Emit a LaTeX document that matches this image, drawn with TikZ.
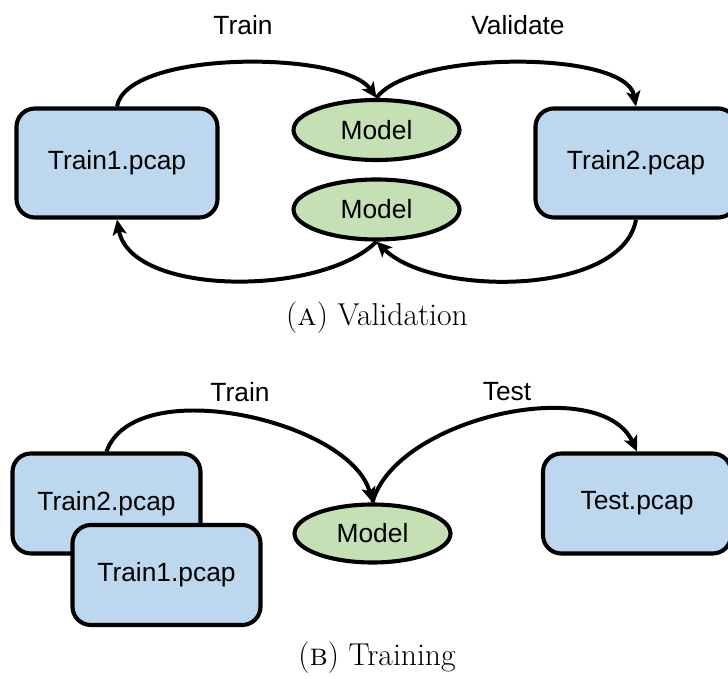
\documentclass[tikz,border=0pt]{standalone}
\usepackage{fontspec}
\setsansfont{Liberation Sans}
\usepackage{tikz}
\usetikzlibrary{arrows.meta,positioning,shapes.geometric}
\definecolor{pcapblue}{HTML}{BDD7EE}
\definecolor{modelgreen}{HTML}{C5E0B4}

\begin{document}
\begin{tikzpicture}[x=0.03cm, y=0.03cm,
  pcap/.style={draw, rounded corners=0.55cm, fill=pcapblue, line width=3.5pt, font=\sffamily\fontsize{22.5}{26}\selectfont},
  model/.style={draw, ellipse, fill=modelgreen, line width=3.5pt, inner sep=0pt, font=\sffamily\fontsize{22.5}{26}\selectfont},
  flow/.style={-{Stealth[length=13pt,width=12pt,inset=3pt]}, line width=3.4pt},
  lbl/.style={font=\sffamily\fontsize{22.5}{26}\selectfont},
  subcap/.style={font=\fontsize{27}{30}\selectfont}]
  \useasboundingbox (0,0) rectangle (728,679);

  % (a) validation
  \node[pcap, minimum width=6.03cm, minimum height=3.27cm] (t1) at (117,516) {Train1.pcap};
  \node[pcap, minimum width=6.03cm, minimum height=3.27cm] (t2) at (636,516) {Train2.pcap};
  \node[model, minimum width=4.98cm, minimum height=1.8cm] (m1) at (376.5,549) {Model};
  \node[model, minimum width=4.98cm, minimum height=1.8cm] (m2) at (376.5,469.5) {Model};

  \draw[flow] (t1.north) to[out=80, in=125, looseness=0.57] (m1.north);
  \draw[flow] (m1.north) to[out=55, in=100, looseness=0.57] (t2.north);
  \draw[flow] (t2.south) to[out=-100, in=-45, looseness=0.77] (m2.south);
  \draw[flow] (m2.south) to[out=-135, in=-80, looseness=0.77] (t1.south);

  \node[lbl] (trainA) at (243,654) {Train};
  \node[lbl] (valA) at (518,654) {Validate};
  \node[subcap] (capA) at (377,361) {({\scshape a}) Validation};

  % (b) training
  \node[pcap, minimum width=5.64cm, minimum height=3.0cm] (b2) at (106.5,175.5) {Train2.pcap};
  \node[pcap, minimum width=5.64cm, minimum height=3.0cm] (b1) at (166.5,104) {Train1.pcap};
  \node[model, minimum width=4.68cm, minimum height=1.74cm] (m3) at (372.5,145.5) {Model};
  \node[pcap, minimum width=5.64cm, minimum height=3.0cm] (test) at (637,175.5) {Test.pcap};

  \draw[flow] (b2.north) to[out=70, in=105, looseness=0.8] (m3.north);
  \draw[flow] (m3.north) to[out=75, in=115, looseness=0.83] (test.north);

  \node[lbl] (trainB) at (240,287) {Train};
  \node[lbl] (testB) at (507,287) {Test};
  \node[subcap] (capB) at (377,21) {({\scshape b}) Training};
\end{tikzpicture}
\end{document}
